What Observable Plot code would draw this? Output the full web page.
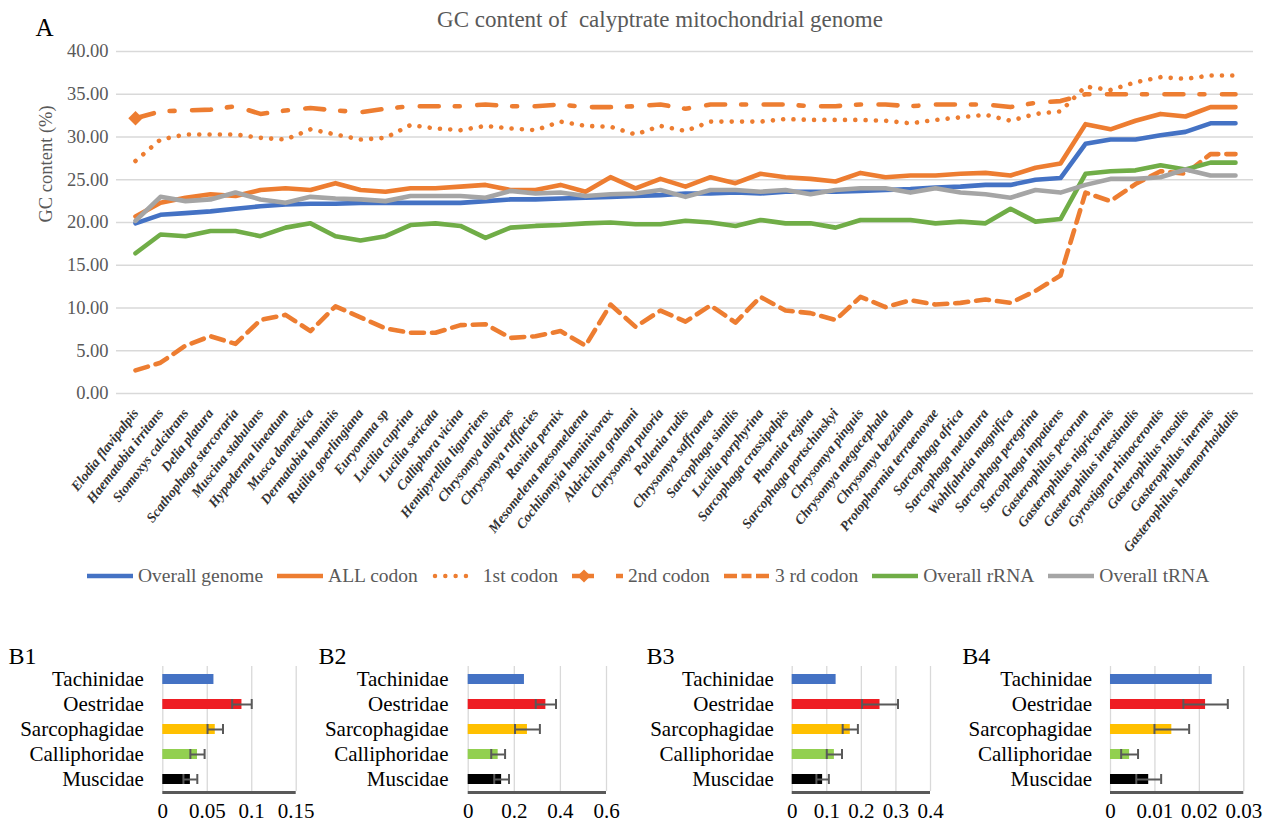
<!DOCTYPE html>
<html><head><meta charset="utf-8">
<script src="https://cdn.jsdelivr.net/npm/d3@7"></script>
<script src="https://cdn.jsdelivr.net/npm/@observablehq/plot@0.6"></script>
<style>
body{margin:0;background:#fff;}
#root{position:relative;width:1266px;height:824px;overflow:hidden;background:#fff;font-family:"Liberation Serif","Times New Roman",serif;}
#root svg{overflow:visible;}
#root svg text{white-space:pre;}
.abs{position:absolute;}
.legend{position:absolute;left:87px;top:564px;display:flex;align-items:center;font-size:19.5px;color:#595959;white-space:nowrap;line-height:24px;}
.legend .item{display:flex;align-items:center;margin-right:14px;}
.legend .item svg{margin-right:5px;}
</style></head><body><div id="root"></div>
<script>
// ---------- data: panel A ----------
const species = ["Elodia flavipalpis","Haematobia irritans","Stomoxys calcitrans","Delia platura","Scathophaga stercoraria","Muscina stabulans","Hypoderma lineatum","Musca domestica","Dermatobia hominis","Rutilia goerlingiana","Euryomma sp","Lucilia cuprina","Lucilia sericata","Calliphora vicina","Hemipyrellia ligurriens","Chrysomya albiceps","Chrysomya ruffacies","Ravinia pernix","Mesomelena mesomelaena","Cochliomyia hominivorax","Aldrichina grahami","Chrysomya putoria","Pollenia rudis","Chrysomya saffranea","Sarcophaga similis","Lucilia porphyrina","Sarcophaga crassipalpis","Phormia regina","Sarcophaga portschinskyi","Chrysomya pinguis","Chrysomya megacephala","Chrysomya bezziana","Protophormia terraenovae","Sarcophaga africa","Sarcophaga melanura","Wohlfahrtia magnifica","Sarcophaga peregrina","Sarcophaga impatiens","Gasterophilus pecorum","Gasterophilus nigricornis","Gasterophilus intestinalis","Gyrostigma rhinocerontis","Gasterophilus nasalis","Gasterophilus inermis","Gasterophilus haemorrhoidalis"];
const seriesNames = ["Overall genome","ALL codon","1st codon","2nd codon","3 rd codon","Overall rRNA","Overall tRNA"];
const overallGenome = [19.9,20.9,21.1,21.3,21.6,21.9,22.1,22.2,22.2,22.3,22.3,22.3,22.3,22.3,22.5,22.7,22.7,22.8,22.9,23.0,23.1,23.2,23.4,23.4,23.5,23.4,23.6,23.6,23.6,23.7,23.8,23.9,24.1,24.2,24.4,24.4,25.0,25.2,29.2,29.7,29.7,30.2,30.6,31.6,31.6];
const allCodon = [20.7,22.3,22.9,23.3,23.1,23.8,24.0,23.8,24.6,23.8,23.6,24.0,24.0,24.2,24.4,23.8,23.8,24.4,23.6,25.3,24.0,25.1,24.2,25.3,24.6,25.7,25.3,25.1,24.8,25.8,25.3,25.5,25.5,25.7,25.8,25.5,26.4,26.9,31.5,30.9,31.9,32.7,32.4,33.5,33.5];
const firstCodon = [27.2,29.7,30.3,30.3,30.3,29.9,29.7,30.9,30.3,29.7,29.9,31.4,31.0,30.8,31.3,31.0,30.8,31.8,31.3,31.2,30.3,31.3,30.7,31.8,31.8,31.8,32.1,32.0,32.0,32.0,31.9,31.6,32.0,32.3,32.6,31.9,32.7,33.0,35.9,35.5,36.4,37.0,36.8,37.2,37.2];
const secondCodon = [32.2,33.0,33.1,33.2,33.6,32.7,33.1,33.4,33.1,32.9,33.3,33.6,33.6,33.6,33.8,33.6,33.6,33.8,33.5,33.5,33.6,33.8,33.3,33.8,33.8,33.8,33.8,33.6,33.6,33.8,33.8,33.6,33.8,33.8,33.8,33.5,34.0,34.2,35.0,35.0,35.0,35.0,35.0,35.0,35.0];
const thirdCodon = [2.7,3.6,5.6,6.7,5.8,8.6,9.2,7.3,10.2,8.9,7.6,7.1,7.1,8.0,8.1,6.5,6.7,7.3,5.6,10.4,7.8,9.7,8.4,10.3,8.3,11.3,9.7,9.4,8.6,11.3,10.1,10.9,10.4,10.6,11.0,10.6,12.0,13.8,23.5,22.5,24.5,26.0,25.7,28.0,28.0];
const overallRRNA = [16.4,18.6,18.4,19.0,19.0,18.4,19.4,19.9,18.4,17.9,18.4,19.7,19.9,19.6,18.2,19.4,19.6,19.7,19.9,20.0,19.8,19.8,20.2,20.0,19.6,20.3,19.9,19.9,19.4,20.3,20.3,20.3,19.9,20.1,19.9,21.6,20.1,20.4,25.7,26.0,26.1,26.7,26.2,27.0,27.0];
const overallTRNA = [20.2,23.0,22.5,22.7,23.5,22.7,22.3,23.0,22.8,22.7,22.5,23.1,23.1,23.1,22.9,23.7,23.4,23.5,23.1,23.3,23.4,23.8,23.0,23.8,23.8,23.6,23.8,23.3,23.8,24.0,24.0,23.5,24.0,23.5,23.3,22.9,23.8,23.5,24.4,25.1,25.1,25.3,26.2,25.5,25.5];
const yTicks = [0,5,10,15,20,25,30,35,40];
const chartTitle = "GC content of  calyptrate mitochondrial genome";
const yLabel = "GC content (%)";

// ---------- data: panels B ----------
const families = ["Tachinidae","Oestridae","Sarcophagidae","Calliphoridae","Muscidae"];
const b1Values = [0.0575,0.089,0.059,0.039,0.031];
const b1Errors = [0,0.011,0.0087,0.008,0.0078];
const b2Values = [0.244,0.337,0.257,0.13,0.145];
const b2Errors = [0,0.044,0.054,0.03,0.032];
const b3Values = [0.127,0.254,0.168,0.122,0.088];
const b3Errors = [0,0.052,0.022,0.022,0.018];
const b4Values = [0.0229,0.0214,0.0138,0.0043,0.0086];
const b4Errors = [0,0.005,0.0039,0.0019,0.0028];
const b1Ticks = [0,0.05,0.1,0.15];
const b2Ticks = [0,0.2,0.4,0.6];
const b3Ticks = [0,0.1,0.2,0.3,0.4];
const b4Ticks = [0,0.01,0.02,0.03];

// ---------- styles ----------
const FONT = '"Liberation Serif","Times New Roman",serif';
const ORANGE = "#ED7D31";
const lineStyles = {
  "Overall genome": {stroke: "#4472C4"},
  "ALL codon": {stroke: ORANGE},
  "1st codon": {stroke: ORANGE, strokeDasharray: "0.01 10.3", strokeLinecap: "round"},
  "2nd codon": {stroke: ORANGE, strokeDasharray: "19 16 5 17.5"},
  "3 rd codon": {stroke: ORANGE, strokeDasharray: "13 8"},
  "Overall rRNA": {stroke: "#70AD47"},
  "Overall tRNA": {stroke: "#A5A5A5"}
};
const familyColors = ["#4472C4","#EE1D23","#FFC000","#92D050","#000000"];

const root = document.getElementById("root");
const seriesArrays = [overallGenome, allCodon, firstCodon, secondCodon, thirdCodon, overallRRNA, overallTRNA];
const records = seriesNames.flatMap((name, k) => species.map((sp, i) => ({series: name, species: sp, value: seriesArrays[k][i]})));

const main = Plot.plot({
  width: 1266, height: 560,
  marginLeft: 116, marginRight: 13, marginTop: 51, marginBottom: 167,
  style: {fontFamily: FONT, background: "transparent", overflow: "visible"},
  x: {type: "point", domain: species, padding: 0.48, label: null},
  y: {domain: [0, 40], label: null},
  marks: [
    Plot.ruleY(yTicks, {stroke: "#d9d9d9", strokeWidth: 1.3}),
    Plot.axisY(yTicks, {tickSize: 0, tickPadding: 8, tickFormat: d => d.toFixed(2), fontSize: 18.5, fill: "#595959", label: null}),
    Plot.axisX({tickSize: 0, tickPadding: 17, tickRotate: -52, fontSize: 13.8, fontWeight: "bold", fontStyle: "italic", fill: "#333333", label: null}),
    ...seriesNames.map(name => Plot.line(records.filter(d => d.series === name), {
      x: "species", y: "value", strokeWidth: 4.6, strokeLinejoin: "round", ...lineStyles[name]
    })),
    Plot.dot(records.filter(d => d.series === "2nd codon").slice(0, 1), {x: "species", y: "value", symbol: "diamond2", r: 6.5, fill: ORANGE}),
    Plot.text([chartTitle], {frameAnchor: "top", lineAnchor: "middle", dx: -25, dy: -32, fontSize: 23, fill: "#595959"}),
    Plot.text(["A"], {frameAnchor: "top-left", lineAnchor: "middle", textAnchor: "start", dx: -81, dy: -24, fontSize: 25, fill: "#000"}),
    Plot.text([yLabel], {frameAnchor: "left", rotate: -90, dx: -70, fontSize: 18.5, fill: "#595959"})
  ]
});
main.classList.add("abs");
main.style.left = "0px"; main.style.top = "0px";
root.appendChild(main);

// ---------- legend ----------
const legend = document.createElement("div");
legend.className = "legend";
const NS = "http://www.w3.org/2000/svg";
seriesNames.forEach(name => {
  const st = lineStyles[name];
  const item = document.createElement("div");
  item.className = "item";
  const is2nd = name === "2nd codon";
  const w = is2nd ? 51 : 46;
  const svg = document.createElementNS(NS, "svg");
  svg.setAttribute("width", w); svg.setAttribute("height", 20);
  const ln = document.createElementNS(NS, "line");
  ln.setAttribute("x1", st.strokeLinecap === "round" ? 3 : 0);
  ln.setAttribute("x2", st.strokeLinecap === "round" ? w - 3 : w);
  ln.setAttribute("y1", 10); ln.setAttribute("y2", 10);
  ln.setAttribute("stroke", st.stroke); ln.setAttribute("stroke-width", 4.5);
  if (st.strokeLinecap) ln.setAttribute("stroke-linecap", st.strokeLinecap);
  if (is2nd) ln.setAttribute("stroke-dasharray", "22 22 7 30");
  else if (name === "3 rd codon") ln.setAttribute("stroke-dasharray", "13 4.5 10 4.5 13");
  else if (st.strokeDasharray) ln.setAttribute("stroke-dasharray", st.strokeDasharray);
  svg.appendChild(ln);
  if (is2nd) {
    const p = document.createElementNS(NS, "path");
    p.setAttribute("d", d3.symbol(d3.symbolDiamond2, 110)());
    p.setAttribute("transform", "translate(12,10)");
    p.setAttribute("fill", ORANGE);
    svg.appendChild(p);
  }
  const span = document.createElement("span");
  span.textContent = name;
  item.appendChild(svg); item.appendChild(span);
  legend.appendChild(item);
});
root.appendChild(legend);

// ---------- panels B ----------
function panel(label, values, errors, ticks, o) {
  const rows = families.map((f, i) => ({family: f, value: values[i], error: errors[i]}));
  const errs = rows.filter(d => d.error > 0);
  const p = Plot.plot({
    width: o.width, height: 224,
    marginLeft: o.ml, marginRight: o.mr, marginTop: 66, marginBottom: 33,
    style: {fontFamily: FONT, background: "transparent", overflow: "visible"},
    x: {domain: [0, ticks[ticks.length - 1]], label: null},
    y: {domain: families, paddingInner: 0.62, paddingOuter: 0.31, label: null},
    color: {domain: families, range: familyColors},
    marks: [
      Plot.ruleX(ticks, {stroke: "#d9d9d9", strokeWidth: 1.3}),
      Plot.barX(rows, {x: "value", y: "family", fill: "family"}),
      Plot.ruleY(errs, {y: "family", x1: d => d.value - d.error, x2: d => d.value + d.error, stroke: "#595959", strokeWidth: 2}),
      Plot.tickX(errs, {x: d => d.value - d.error, y: "family", stroke: "#595959", strokeWidth: 2}),
      Plot.tickX(errs, {x: d => d.value + d.error, y: "family", stroke: "#595959", strokeWidth: 2}),
      Plot.ruleY([families[families.length - 1]], {y: d => d, dy: 13, stroke: "#595959", strokeWidth: 3}),
      Plot.axisY({tickSize: 0, tickPadding: o.tp, fontSize: 21, fill: "#000", label: null}),
      Plot.axisX(ticks, {tickSize: 0, tickPadding: 12, fontSize: 21, fill: "#000", tickFormat: d => String(d), label: null}),
      Plot.text([label], {frameAnchor: "top-left", textAnchor: "start", lineAnchor: "bottom", dx: o.lx - o.ml, dy: -3, fontSize: 24, fill: "#000"})
    ]
  });
  p.classList.add("abs");
  p.style.left = o.left + "px"; p.style.top = "600px";
  root.appendChild(p);
}
panel("B1", b1Values, b1Errors, b1Ticks, {left: 0, width: 320, ml: 162.3, mr: 24.3, tp: 19, lx: 8});
panel("B2", b2Values, b2Errors, b2Ticks, {left: 310, width: 320, ml: 157.7, mr: 24, tp: 19.7, lx: 8});
panel("B3", b3Values, b3Errors, b3Ticks, {left: 630, width: 320, ml: 161.7, mr: 20, tp: 18.4, lx: 16});
panel("B4", b4Values, b4Errors, b4Ticks, {left: 940, width: 326, ml: 170, mr: 22.7, tp: 18.3, lx: 21.7});
</script></body></html>
